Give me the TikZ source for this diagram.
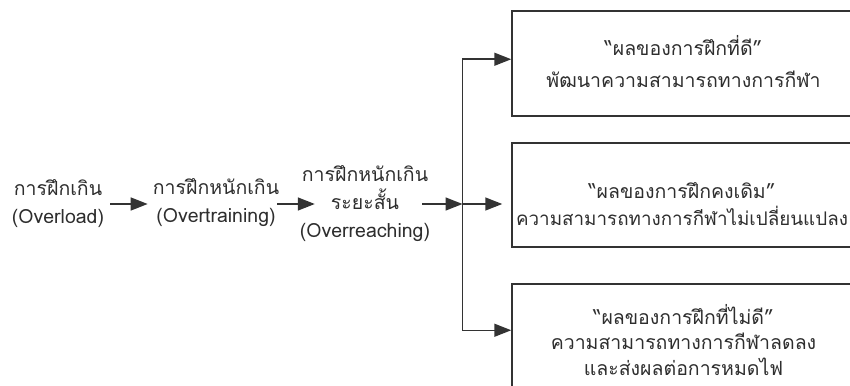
\documentclass[tikz,border=0pt]{standalone}
\usepackage{fontspec}
\newfontfamily\thaifont[Script=Thai]{Loma}
\usetikzlibrary{arrows.meta,calc}
\definecolor{ln}{HTML}{333333}
\definecolor{tx}{HTML}{2E2E2E}
\tikzset{
  lbl/.style={align=center,inner sep=0pt,text=tx,font=\thaifont\fontsize{19.5}{28}\selectfont},
  outbox/.style={draw=ln,line width=1.5pt,inner sep=0pt,minimum width=343pt},
  conn/.style={draw=ln,line width=1.5pt},
  arr/.style={conn,-{Triangle[length=17pt,width=13pt]}}
}
\begin{document}
\begin{tikzpicture}[x=1pt,y=-1pt]
\useasboundingbox (0,0) rectangle (850,385);
\clip (0,0) rectangle (850,385);
\node[lbl] (n1) at (58,204) {การฝึกเกิน\\(Overload)};
\node[lbl] (n2) at (216,203) {การฝึกหนักเกิน\\(Overtraining)};
\node[lbl] (n3) at (365,204) {การฝึกหนักเกิน\\ระยะสั้น\\(Overreaching)};
\node[outbox,minimum height=105pt] (b1) at (683.5,63.5) {};
\node[outbox,minimum height=104pt] (b2) at (683.5,195) {};
\node[outbox,minimum height=134pt] (b3) at (683.5,351) {};
\node[lbl,font=\thaifont\fontsize{19.5}{32}\selectfont] (t1) at (683.5,62) {“ผลของการฝึกที่ดี”\\พัฒนาความสามารถทางการกีฬา};
\node[lbl,font=\thaifont\fontsize{19.5}{26.5}\selectfont] (t2) at (682,204) {“ผลของการฝึกคงเดิม”\\{\fontsize{18.8}{26.5}\selectfont ความสามารถทางการกีฬาไม่เปลี่ยนแปลง}};
\node[lbl,font=\thaifont\fontsize{19.5}{25.5}\selectfont] (t3) at (683.5,340) {“ผลของการฝึกที่ไม่ดี”\\ความสามารถทางการกีฬาลดลง\\และส่งผลต่อการหมดไฟ};
\coordinate (sp) at (462.5,204);
\draw[arr] ([xshift=6pt]n1.east |- sp) -- ([xshift=-5pt]n2.west |- sp);
\draw[arr] ([xshift=-2pt]n2.east |- sp) -- ([xshift=15pt]n3.west |- sp);
\draw[arr] ([xshift=-8pt]n3.east |- sp) -- (sp);
\draw[arr] (sp) -- ([xshift=-9pt]b2.west |- sp);
\draw[arr] (sp) |- ([yshift=-49pt]b1.north west);
\draw[arr] (sp) |- ([yshift=-47pt]b3.north west);
\end{tikzpicture}
\end{document}
